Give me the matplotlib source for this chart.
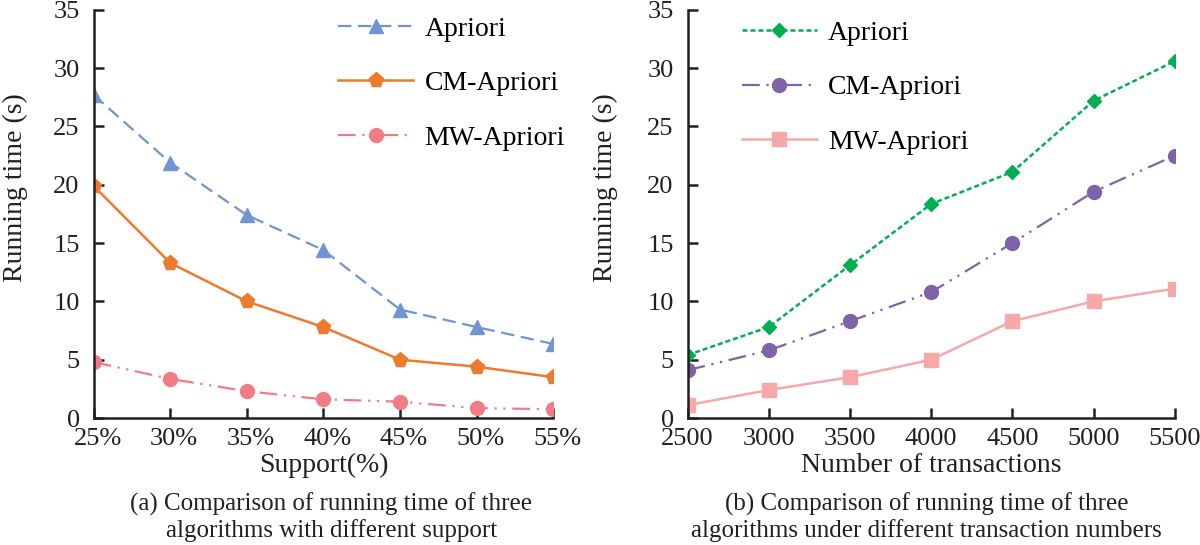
import numpy as np
import matplotlib.pyplot as plt
import matplotlib.transforms as mtransforms

plt.rcParams['font.family'] = ['Liberation Serif', 'DejaVu Serif']
plt.rcParams['font.size'] = 20

# (a) running time vs support
support = [25, 30, 35, 40, 45, 50, 55]
support_labels = ['25%', '30%', '35%', '40%', '45%', '50%', '55%']
a_apriori = [27.7, 21.9, 17.4, 14.4, 9.3, 7.8, 6.35]
a_cm = [19.9, 13.3, 10.0, 7.8, 5.0, 4.4, 3.5]
a_mw = [4.8, 3.35, 2.3, 1.6, 1.4, 0.85, 0.75]

# (b) running time vs number of transactions
trans = [2500, 3000, 3500, 4000, 4500, 5000, 5500]
b_apriori = [5.4, 7.8, 13.1, 18.35, 21.1, 27.2, 30.6]
b_cm = [4.1, 5.8, 8.3, 10.8, 15.0, 19.4, 22.5]
b_mw = [1.1, 2.4, 3.5, 5.0, 8.3, 10.0, 11.1]

fig = plt.figure(figsize=(12, 5.45), dpi=100)
ax1 = fig.add_axes([0.078, 0.233, 0.383, 0.749])
ax2 = fig.add_axes([0.573, 0.233, 0.406, 0.749])

dashdotdot = (0, (8, 3, 1, 3, 1, 3))

ax1.plot(support, a_apriori, color='#6F95D2', linestyle=(0, (6, 3)), lw=1.6,
         marker='^', ms=10, label='Apriori')
ax1.plot(support, a_cm, color='#EE7A2E', linestyle='-', lw=1.8,
         marker='p', ms=11, label='CM-Apriori')
ax1.plot(support, a_mw, color='#F27C86', linestyle=dashdotdot, lw=1.6,
         marker='o', ms=10, label='MW-Apriori')
ax1.set_xticks(support)
ax1.set_xticklabels(support_labels)
ax1.set_xlim(25, 55)

ax2.plot(trans, b_apriori, color='#00B050', linestyle=(0, (2, 1.2)), lw=1.8,
         marker='D', ms=7, label='Apriori')
ax2.plot(trans, b_cm, color='#7F63A8', linestyle=dashdotdot, lw=1.6,
         marker='o', ms=10, label='CM-Apriori')
ax2.plot(trans, b_mw, color='#F7A8A8', linestyle='-', lw=1.8,
         marker='s', ms=10, label='MW-Apriori')
ax2.set_xticks(trans)
ax2.set_xlim(2500, 5500)

for ax in (ax1, ax2):
    ax.set_ylim(0, 35)
    ax.set_yticks(range(0, 36, 5))
    ax.spines['top'].set_visible(False)
    ax.spines['right'].set_visible(False)
    ax.spines['left'].set_linewidth(1.8)
    ax.spines['bottom'].set_linewidth(1.8)
    ax.spines['left'].set_color('#231F20')
    ax.spines['bottom'].set_color('#231F20')
    ax.tick_params(direction='in', length=7, width=1.8, labelsize=19,
                   color='#231F20', labelcolor='#231F20')
    ax.tick_params(axis='x', pad=7)
    ax.tick_params(axis='y', pad=10)
    ax.set_ylabel('Running time (s)', fontsize=20, color='#231F20')
    ax.yaxis.set_label_coords(-0.143, 0.565)

# percent labels sit a little right of their ticks in the original
shift = mtransforms.ScaledTranslation(4 / 100, 0, fig.dpi_scale_trans)
for lbl in ax1.get_xticklabels():
    lbl.set_transform(lbl.get_transform() + shift)

ax1.legend(loc='upper left', bbox_to_anchor=(0.478, 1.045), frameon=False,
           handlelength=2.7, handletextpad=0.4, labelspacing=1.04, fontsize=20)
ax2.legend(loc='upper left', bbox_to_anchor=(0.06, 1.035), frameon=False,
           handlelength=2.7, handletextpad=0.4, labelspacing=1.04, fontsize=20)

ax1.set_xlabel('Support(%)', fontsize=20, labelpad=2, color='#231F20')
ax2.set_xlabel('Number of transactions', fontsize=20, labelpad=2, color='#231F20')

fig.text(0.276, 0.005, '(a) Comparison of running time of three\nalgorithms with different support',
         ha='center', va='bottom', fontsize=18, linespacing=1.2, color='#231F20')
fig.text(0.772, 0.005, '(b) Comparison of running time of three\nalgorithms under different transaction numbers',
         ha='center', va='bottom', fontsize=18, linespacing=1.2, color='#231F20')

fig.savefig('out.png', dpi=100)
